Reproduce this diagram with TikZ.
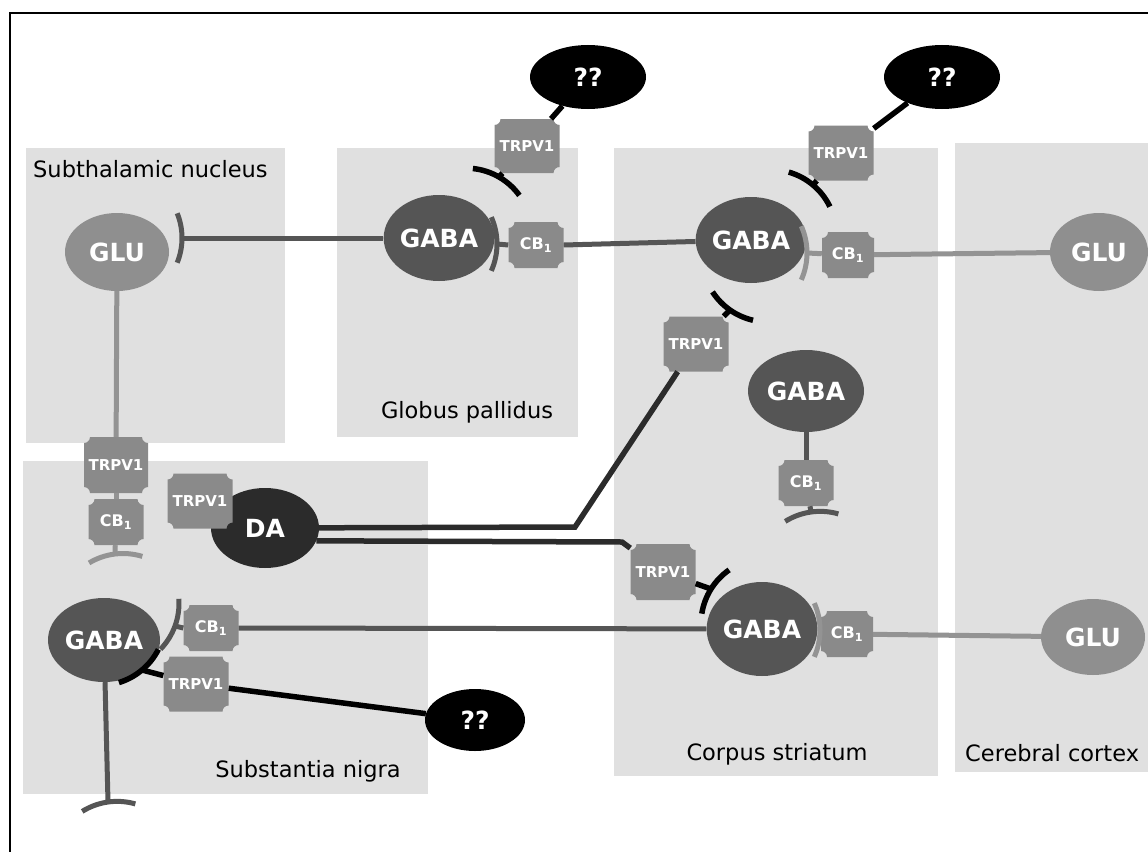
\documentclass[tikz,border=0pt]{standalone}
\usepackage{fontspec}
\setmainfont{DejaVu Sans}
\usetikzlibrary{shapes.geometric,calc}
\definecolor{panel}{HTML}{E0E0E0}
\definecolor{glucol}{HTML}{8F8F8F}
\definecolor{gabacol}{HTML}{555555}
\definecolor{dacol}{HTML}{2B2B2B}
\definecolor{rcpcol}{HTML}{8A8A8A}
\definecolor{darkline}{HTML}{555555}
\definecolor{lightline}{HTML}{939393}
\definecolor{blackline}{HTML}{000000}
\newcommand\rcp[5]{%
 \fill[rcpcol] ($(#2)+(-#3/2+6,-#4/2)$) -- ($(#2)+(#3/2-6,-#4/2)$) arc[start angle=180,end angle=90,radius=6]
  -- ($(#2)+(#3/2,#4/2-6)$) arc[start angle=270,end angle=180,radius=6]
  -- ($(#2)+(-#3/2+6,#4/2)$) arc[start angle=360,end angle=270,radius=6]
  -- ($(#2)+(-#3/2,-#4/2+6)$) arc[start angle=90,end angle=0,radius=6] -- cycle;
 \node[rcptext, minimum width=#3pt, minimum height=#4pt] (#1) at (#2) {#5};}
\newcommand\syn[5]{%
 \coordinate (#2) at (#3);
 \draw[#1] ($(#3)+(#4+180:66)+(#4-#5:66)$) arc[start angle=#4-#5, end angle=#4+#5, radius=66];}
\newcommand\cbone{{\fontsize{16}{18}\selectfont CB\textsubscript{1}}}
\begin{document}
\begin{tikzpicture}[x=1pt,y=-1pt,
  ell/.style={ellipse, inner sep=0pt, text=white, font=\bfseries\fontsize{25}{28}\selectfont},
  glu/.style={ell, fill=glucol},
  gaba/.style={ell, fill=gabacol},
  dan/.style={ell, fill=dacol},
  unk/.style={ell, fill=black},
  rcptext/.style={inner sep=0pt, text=white, font=\bfseries\fontsize{15}{17}\selectfont},
  region/.style={anchor=base west, inner sep=0pt, text=black, font=\fontsize{22.5}{26}\selectfont},
  regionc/.style={region, anchor=base},
  dk/.style={draw=darkline, line width=5pt},
  lt/.style={draw=lightline, line width=5pt},
  bk/.style={draw=blackline, line width=5.5pt}]
\useasboundingbox (0,0) rectangle (1148,851);
\fill[white] (0,0) rectangle (1148,851);
\draw[line width=2pt] (10,13) rectangle (1170,880);
% panels
\fill[panel] (26,148) rectangle (285,443);
\fill[panel] (337,148) rectangle (578,437);
\fill[panel] (614,148) rectangle (938,776);
\fill[panel] (955,143) rectangle (1160,772);
\fill[panel] (23,461) rectangle (428,794);
\node[region] (lstn) at (33,177) {Subthalamic nucleus};
\node[regionc] (lgp) at (467,418) {Globus pallidus};
\node[regionc] (lcs) at (777,760) {Corpus striatum};
\node[region] (lcc) at (965,761) {Cerebral cortex};
\node[regionc] (lsn) at (308,777) {Substantia nigra};
% cells
\node[glu, minimum width=104pt, minimum height=78pt] (glu1) at (117,252) {GLU};
\node[gaba, minimum width=102pt, minimum height=86pt] (gaba1) at (439,238) {GABA};
\node[gaba, minimum width=100pt, minimum height=86pt] (gaba2) at (751,240) {GABA};
\node[glu, minimum width=98pt, minimum height=78pt] (glu2) at (1099,252) {GLU};
\node[gaba, minimum width=116pt, minimum height=82pt] (gaba3) at (806,391) {GABA};
\node[dan, minimum width=108pt, minimum height=80pt] (da) at (265,528) {DA};
\node[gaba, minimum width=112pt, minimum height=84pt] (gaba4) at (104,640) {GABA};
\node[gaba, minimum width=100pt, minimum height=94pt] (gaba5) at (762,629) {GABA};
\node[glu, minimum width=104pt, minimum height=76pt] (glu3) at (1093,637) {GLU};
\node[unk, minimum width=116pt, minimum height=64pt] (q1) at (588,77) {??};
\node[unk, minimum width=116pt, minimum height=64pt] (q2) at (942,77) {??};
\node[unk, minimum width=100pt, minimum height=62pt] (q3) at (475,720) {??};
% receptors
\rcp{rgpcb}{536,245}{55}{46}{\cbone}
\rcp{rgptr}{527,146}{65}{54}{TRPV1}
\rcp{rsttra}{841,153}{65}{55}{TRPV1}
\rcp{rstcba}{848,255}{52}{46}{\cbone}
\rcp{rsttrb}{696,344}{65}{55}{TRPV1}
\rcp{rstcbb}{806,483}{55}{46}{\cbone}
\rcp{rsntra}{116,465}{64}{56}{TRPV1}
\rcp{rsncba}{116,522}{55}{46}{\cbone}
\rcp{rdatr}{200,501}{65}{55}{TRPV1}
\rcp{rsncbb}{211,628}{55}{46}{\cbone}
\rcp{rsntrb}{196,684}{65}{55}{TRPV1}
\rcp{rsttrc}{663,572}{65}{56}{TRPV1}
\rcp{rstcbc}{847,634}{52}{46}{\cbone}
% synapse arcs
\syn{dk}{aSTN}{182,238}{0}{22}
\syn{dk}{aGPr}{497,244}{0}{24}
\syn{bk}{aGPt}{499,177}{-60}{24}
\syn{bk}{aSTt}{813,185}{-50}{24}
\syn{lt}{aSTcba}{807,253}{0}{24}
\syn{bk}{aSTtrb}{730,310}{125}{22}
\syn{bk}{aSTtrc}{711,589}{212}{23}
\syn{lt}{aSTcbc}{820,630}{0}{24}
\syn{dk}{aSTmid}{811,512}{-98}{24}
\syn{lt}{aSNtop}{115,554}{-97}{24}
\syn{dk}{aSNcb}{175,626}{20}{24}
\syn{bk}{aSNtr}{142,670}{50}{23}
\syn{dk}{aSNbot}{108,802}{-98}{24}
% connectors
\coordinate (k1) at (575,527);
\coordinate (k2) at (622,542);
\draw[dk] (gaba1) -- (aSTN);
\draw[dk] (rgpcb.east) -- (gaba2);
\draw[dk] (rgpcb.west) -- (aGPr);
\draw[dk] (rsncbb.east) -- (gaba5);
\draw[dk] (rsncbb.west) -- (aSNcb);
\draw[dk] (gaba4) -- (aSNbot);
\draw[dk] (gaba3) -- (rstcbb);
\draw[dk] (rstcbb) -- (aSTmid);
\draw[lt] (glu2) -- (rstcba);
\draw[lt] (rstcba) -- (aSTcba);
\draw[lt] (glu3) -- (rstcbc);
\draw[lt] (rstcbc) -- (aSTcbc);
\draw[lt] (glu1) -- (rsntra);
\draw[lt] (rsntra) -- (rsncba);
\draw[lt] (rsncba) -- (aSNtop);
\draw[bk] (q1) -- (rgptr);
\draw[bk] (rgptr) -- (aGPt);
\draw[bk] (q2) -- (rsttra);
\draw[bk] (rsttra) -- (aSTt);
\draw[bk, draw=dacol] (da) -- (k1) -- (rsttrb);
\draw[bk, draw=dacol] (da.-14) -- (k2) -- (rsttrc);
\draw[bk] (rsttrb) -- (aSTtrb);
\draw[bk] (rsttrc) -- (aSTtrc);
\draw[bk] (q3) -- (rsntrb);
\draw[bk] (rsntrb) -- (aSNtr);
\end{tikzpicture}
\end{document}
